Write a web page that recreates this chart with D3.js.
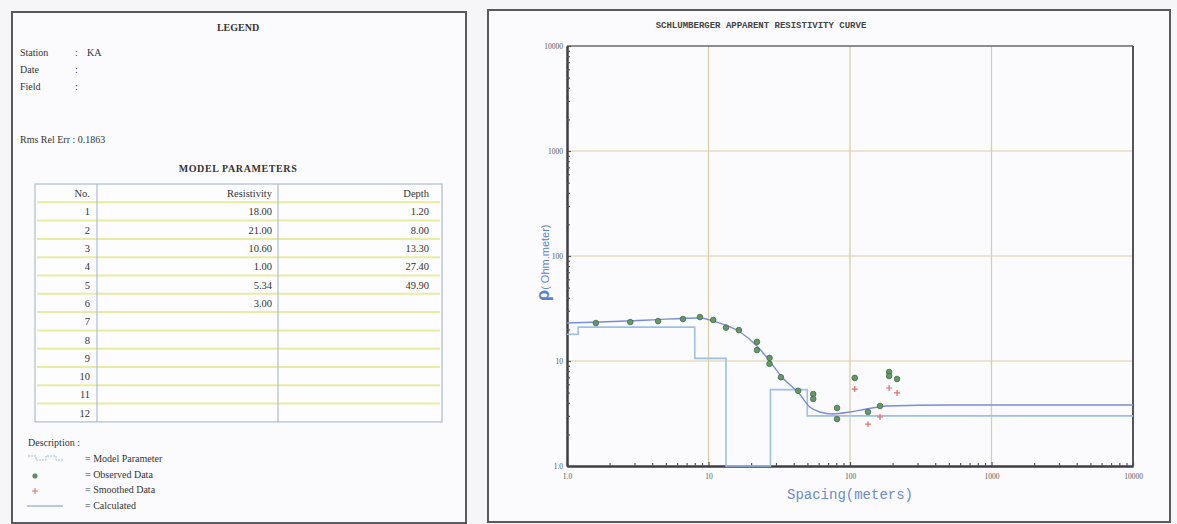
<!DOCTYPE html>
<html>
<head>
<meta charset="utf-8">
<script src="https://cdn.jsdelivr.net/npm/d3@7"></script>
<style>
  body { margin: 0; background: #f6f6f8; }
  svg { display: block; }
  .serif { font-family: "Liberation Serif", "DejaVu Serif", serif; fill: #333; }
  .mono { font-family: "Liberation Mono", "DejaVu Sans Mono", monospace; }
</style>
</head>
<body>
<svg width="1177" height="524"></svg>
<script>
// ---- data ----
var layerNo = [1, 2, 3, 4, 5, 6, 7, 8, 9, 10, 11, 12];
var layerRes = [18.00, 21.00, 10.60, 1.00, 5.34, 3.00];
var layerDepth = [1.20, 8.00, 13.30, 27.40, 49.90];

var obsSpacing = [1.6, 2.8, 4.4, 6.6, 8.7, 10.8, 13.3, 16.4, 22, 22, 27, 27, 32.5, 43, 55, 55, 81, 81, 108, 134, 163, 189, 189, 215];
var obsRho     = [23.0, 23.5, 24.0, 25.1, 26.2, 24.6, 20.8, 19.7, 15.2, 12.7, 10.7, 9.4, 7.0, 5.2, 4.85, 4.35, 3.57, 2.8, 6.9, 3.27, 3.73, 7.86, 7.2, 6.74];

var smoSpacing = [108, 134, 163, 189, 215];
var smoRho     = [5.4, 2.5, 2.93, 5.53, 4.96];

var calcSpacing = [1, 1.71, 3.86, 8.7, 10.8, 16.7, 22, 27, 33, 44, 52, 61, 76, 100, 131, 182, 510, 10000];
var calcRho     = [23.0, 23.5, 24.6, 25.7, 24.0, 18.9, 13.9, 10.0, 7.04, 4.85, 3.64, 3.27, 3.13, 3.27, 3.49, 3.73, 3.81, 3.81];

var majorTicks = [1, 10, 100, 1000, 10000];
var tickLabels = ["1.0", "10", "100", "1000", "10000"];

var svg = d3.select("svg");

// ---- panels ----
svg.append("rect").attr("x", 12).attr("y", 12).attr("width", 454).attr("height", 511)
  .attr("fill", "#fbfbfd").attr("stroke", "#5a5a5e").attr("stroke-width", 2);
svg.append("rect").attr("x", 488).attr("y", 10).attr("width", 682).attr("height", 512)
  .attr("fill", "#fbfbfd").attr("stroke", "#5a5a5e").attr("stroke-width", 2);

// ---- left: legend panel ----
var lp = svg.append("g");
lp.append("text").attr("class", "serif").attr("x", 238).attr("y", 31)
  .attr("text-anchor", "middle").style("font-size", "10px").style("font-weight", "bold").text("LEGEND");

var info = [["Station", "KA"], ["Date", ""], ["Field", ""]];
info.forEach(function(d, i) {
  var y = 56 + i * 17;
  lp.append("text").attr("class", "serif").attr("x", 20).attr("y", y).style("font-size", "10px").text(d[0]);
  lp.append("text").attr("class", "serif").attr("x", 75).attr("y", y).style("font-size", "10px").text(":");
  lp.append("text").attr("class", "serif").attr("x", 87).attr("y", y).style("font-size", "10px").text(d[1]);
});
lp.append("text").attr("class", "serif").attr("x", 20).attr("y", 143).style("font-size", "10px").text("Rms Rel Err  :  0.1863");

lp.append("text").attr("class", "serif").attr("x", 238).attr("y", 172)
  .attr("text-anchor", "middle").style("font-size", "10px").style("font-weight", "bold").style("letter-spacing", "0.6px")
  .text("MODEL  PARAMETERS");

// table
var tx0 = 35, tx1 = 442, ty0 = 184, rowH = 18.3;
var rowY = d3.scaleLinear().domain([0, 13]).range([ty0, ty0 + 13 * rowH]);
var tbl = lp.append("g");
tbl.append("rect").attr("x", tx0).attr("y", ty0).attr("width", tx1 - tx0).attr("height", 13 * rowH)
  .attr("fill", "#fdfdff").attr("stroke", "#aebbd0").attr("stroke-width", 1.2);
tbl.selectAll("line.sep").data(d3.range(1, 13)).enter().append("line")
  .attr("x1", tx0 + 2).attr("x2", tx1 - 2)
  .attr("y1", function(d) { return rowY(d); }).attr("y2", function(d) { return rowY(d); })
  .attr("stroke", "#e8eca0").attr("stroke-width", 2);
[97, 278].forEach(function(x) {
  tbl.append("line").attr("x1", x).attr("x2", x).attr("y1", ty0).attr("y2", ty0 + 13 * rowH)
    .attr("stroke", "#9fb0c8").attr("stroke-width", 1);
});
var colX = [90, 272, 429];
["No.", "Resistivity", "Depth"].forEach(function(h, i) {
  tbl.append("text").attr("class", "serif").attr("x", colX[i]).attr("y", rowY(0.5) + 4)
    .attr("text-anchor", "end").style("font-size", "10.5px").text(h);
});
layerNo.forEach(function(n, i) {
  var y = rowY(i + 1.5) + 4;
  tbl.append("text").attr("class", "serif").attr("x", colX[0]).attr("y", y)
    .attr("text-anchor", "end").style("font-size", "10.5px").text(n);
  if (i < layerRes.length)
    tbl.append("text").attr("class", "serif").attr("x", colX[1]).attr("y", y)
      .attr("text-anchor", "end").style("font-size", "10.5px").text(layerRes[i].toFixed(2));
  if (i < layerDepth.length)
    tbl.append("text").attr("class", "serif").attr("x", colX[2]).attr("y", y)
      .attr("text-anchor", "end").style("font-size", "10.5px").text(layerDepth[i].toFixed(2));
});

// description
lp.append("text").attr("class", "serif").attr("x", 28).attr("y", 446).style("font-size", "10px").text("Description :");
var descr = ["= Model Parameter", "= Observed Data", "= Smoothed Data", "= Calculated"];
descr.forEach(function(t, i) {
  lp.append("text").attr("class", "serif").attr("x", 85).attr("y", 462 + i * 15.5)
    .style("font-size", "10px").text(t);
});
lp.append("path").attr("d", "M28,456 h8 v4 h10 v-4 h10 v4 h7")
  .attr("fill", "none").attr("stroke", "#9ec0ea").attr("stroke-width", 1).attr("stroke-dasharray", "2,1");
lp.append("circle").attr("cx", 35).attr("cy", 476).attr("r", 2.3).attr("fill", "#5e9a62").attr("stroke", "#4a6a50").attr("stroke-width", 0.6);
lp.append("path").attr("d", "M32,491 h6 M35,488 v6").attr("stroke", "#e06a6a").attr("stroke-width", 1);
lp.append("line").attr("x1", 27).attr("x2", 63).attr("y1", 506).attr("y2", 506).attr("stroke", "#7b95d8").attr("stroke-width", 1.2);

// ---- right: resistivity curve ----
var x = d3.scaleLog().domain([1, 10000]).range([567, 1133]);
var y = d3.scaleLog().domain([1, 10000]).range([466, 46]);

var rp = svg.append("g");
rp.append("text").attr("class", "mono").attr("x", 761).attr("y", 28).attr("text-anchor", "middle")
  .style("font-size", "9px").style("font-weight", "bold").style("fill", "#444").text("SCHLUMBERGER APPARENT RESISTIVITY CURVE");

// grid
rp.selectAll("line.vg").data(majorTicks.slice(1, 4)).enter().append("line")
  .attr("x1", function(d) { return x(d); }).attr("x2", function(d) { return x(d); })
  .attr("y1", y(10000)).attr("y2", y(1)).attr("stroke", "#d9cda4").attr("stroke-width", 1.2);
rp.selectAll("line.hg").data(majorTicks.slice(1, 4)).enter().append("line")
  .attr("x1", x(1)).attr("x2", x(10000))
  .attr("y1", function(d) { return y(d); }).attr("y2", function(d) { return y(d); })
  .attr("stroke", "#d9cda4").attr("stroke-width", 1.2);

// frame
rp.append("line").attr("x1", x(1)).attr("x2", x(10000)).attr("y1", y(10000)).attr("y2", y(10000))
  .attr("stroke", "#6a6a6e").attr("stroke-width", 1.5);
rp.append("line").attr("x1", x(10000)).attr("x2", x(10000)).attr("y1", y(10000)).attr("y2", y(1))
  .attr("stroke", "#55555a").attr("stroke-width", 2);

// minor ticks
var minors = [];
[1, 10, 100, 1000].forEach(function(dec) {
  for (var k = 2; k <= 9; k++) minors.push(dec * k);
});

rp.append("g").attr("transform", "translate(0," + y(1) + ")")
  .call(d3.axisBottom(x).tickValues(majorTicks).tickSizeInner(-4).tickSizeOuter(0).tickPadding(8)
    .tickFormat(function(d, i) { return tickLabels[i]; }));
rp.append("g").attr("transform", "translate(0," + y(1) + ")")
  .call(d3.axisBottom(x).tickValues(minors).tickSizeInner(-3).tickSizeOuter(0).tickFormat(""));
rp.append("g").attr("transform", "translate(" + x(1) + ",0)")
  .call(d3.axisLeft(y).tickValues(majorTicks).tickSizeInner(-4).tickSizeOuter(0).tickPadding(4)
    .tickFormat(function(d, i) { return tickLabels[i]; }));
rp.append("g").attr("transform", "translate(" + x(1) + ",0)")
  .call(d3.axisLeft(y).tickValues(minors).tickSizeInner(-3).tickSizeOuter(0).tickFormat(""));

rp.selectAll(".domain").attr("stroke", "#3e3e44").attr("stroke-width", 2);
rp.selectAll(".tick line").attr("stroke", "#555").attr("stroke-width", 1.2);
rp.selectAll(".tick text").style("font-family", "Liberation Serif, serif").style("font-size", "7.5px").style("fill", "#555");

// axis labels
rp.append("text").attr("class", "mono").attr("x", 850).attr("y", 499).attr("text-anchor", "middle")
  .style("font-size", "14px").style("fill", "#6a8ad6").text("Spacing(meters)");
var yl = rp.append("text").attr("transform", "translate(549,301) rotate(-90)")
  .style("font-family", "Liberation Sans, sans-serif").style("fill", "#5c80d4");
yl.append("tspan").style("font-size", "18px").style("font-weight", "bold").text("\u03C1");
yl.append("tspan").style("font-size", "11px").text("( Ohm.meter)");

// model step line
var modelPts = [[1, layerRes[0]]];
layerDepth.forEach(function(dp, i) { modelPts.push([dp, layerRes[i + 1]]); });
modelPts.push([10000, layerRes[layerRes.length - 1]]);
rp.append("path").datum(modelPts)
  .attr("d", d3.line().x(function(d) { return x(d[0]); }).y(function(d) { return y(d[1]); }).curve(d3.curveStepAfter))
  .attr("fill", "none").attr("stroke", "#9cc0ea").attr("stroke-width", 1.6);

// calculated curve
rp.append("path").datum(d3.zip(calcSpacing, calcRho))
  .attr("d", d3.line().x(function(d) { return x(d[0]); }).y(function(d) { return y(d[1]); }).curve(d3.curveMonotoneX))
  .attr("fill", "none").attr("stroke", "#7a8cdc").attr("stroke-width", 1.4);

// smoothed data
rp.selectAll("path.smo").data(d3.zip(smoSpacing, smoRho)).enter().append("path")
  .attr("d", function(d) {
    var px = x(d[0]), py = y(d[1]);
    return "M" + (px - 3) + "," + py + "h6M" + px + "," + (py - 3) + "v6";
  })
  .attr("stroke", "#e86a6a").attr("stroke-width", 1.2);

// observed data
rp.selectAll("circle.obs").data(d3.zip(obsSpacing, obsRho)).enter().append("circle")
  .attr("cx", function(d) { return x(d[0]); })
  .attr("cy", function(d) { return y(d[1]); })
  .attr("r", 2.8)
  .attr("fill", "#5f9c62").attr("stroke", "#4b6652").attr("stroke-width", 0.8);
</script>
</body>
</html>
